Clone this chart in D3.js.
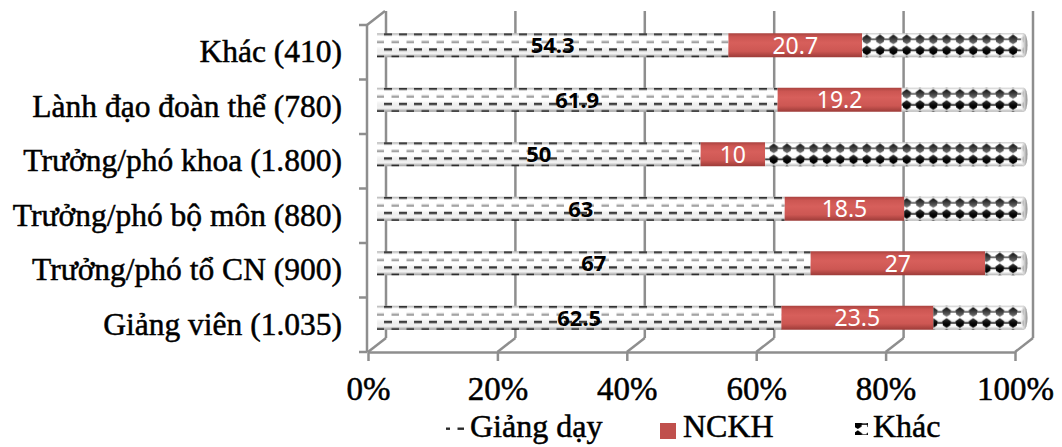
<!DOCTYPE html>
<html>
<head>
<meta charset="utf-8">
<script src="https://cdn.jsdelivr.net/npm/d3@7"></script>
<style>
  html, body { margin: 0; padding: 0; background: #fff; }
  svg { display: block; }
</style>
</head>
<body>
<svg id="chart" width="1062" height="447"></svg>
<script>
// ---------------- data ----------------
const categories = [
  "Khác (410)",
  "Lành đạo đoàn thể (780)",
  "Trưởng/phó khoa (1.800)",
  "Trưởng/phó bộ môn (880)",
  "Trưởng/phó tổ CN (900)",
  "Giảng viên (1.035)"
];
const giangDay = [54.3, 61.9, 50, 63, 67, 62.5];
const nckh     = [20.7, 19.2, 10, 18.5, 27, 23.5];
const khac     = [25, 18.9, 40, 18.5, 6, 14];
const seriesNames = ["Giảng dạy", "NCKH", "Khác"];
const tickValues = [0, 20, 40, 60, 80, 100];

// ---------------- layout ----------------
const svg = d3.select("#chart");
const W = 1062, H = 447;
const front = { left: 368, right: 1015, top: 25, bottom: 352 };
const depth = { dx: 18, dy: -14 };
const barH = 24;
const grid = "#8e8e8e";
const serif = "'Liberation Serif', 'Times New Roman', serif";

const x = d3.scaleLinear().domain([0, 100]).range([front.left, front.right]);
const y = d3.scaleBand().domain(categories).range([front.top, front.bottom]).padding(0);

svg.append("rect").attr("width", W).attr("height", H).attr("fill", "#fff");

// ---------------- defs ----------------
const defs = svg.append("defs");

// Giảng dạy: dashed horizontal pattern
const pG = defs.append("pattern").attr("id", "patGiang")
  .attr("patternUnits", "userSpaceOnUse").attr("width", 15).attr("height", 15);
pG.append("rect").attr("width", 15).attr("height", 15).attr("fill", "#fff");
pG.append("rect").attr("x", 0).attr("y", 0).attr("width", 8).attr("height", 2.4).attr("fill", "#2a2a2a");
pG.append("rect").attr("x", 7.5).attr("y", 7.5).attr("width", 8).attr("height", 2.4).attr("fill", "#2a2a2a");

// Khác: black blob pattern
const pK = defs.append("pattern").attr("id", "patKhac")
  .attr("patternUnits", "userSpaceOnUse").attr("width", 13.3).attr("height", 11);
pK.append("rect").attr("width", 13.3).attr("height", 11).attr("fill", "#fff");
pK.append("path").attr("d", "M6.6,1.2 L11,4.4 L10.2,8.8 L6.6,11 L3,8.8 L2.2,4.4 Z").attr("fill", "#000");
pK.append("rect").attr("x", 0).attr("y", 5.4).attr("width", 13.3).attr("height", 1.4).attr("fill", "#000");

// cylinder shading overlays
function makeShade(id, stops) {
  const g = defs.append("linearGradient").attr("id", id)
    .attr("x1", 0).attr("y1", 0).attr("x2", 0).attr("y2", 1);
  stops.forEach(s => g.append("stop").attr("offset", s[0]).attr("stop-color", s[1]).attr("stop-opacity", s[2]));
}
makeShade("shadeG", [[0, "#000", 0.3], [0.12, "#fff", 0.4], [0.32, "#fff", 0.65], [0.55, "#fff", 0.2],
  [0.85, "#000", 0.05], [1, "#000", 0.4]]);
makeShade("shadeK", [[0, "#000", 0.25], [0.1, "#fff", 0.1], [0.45, "#fff", 0.45], [0.55, "#fff", 0.2],
  [0.85, "#000", 0.0], [1, "#000", 0.3]]);

const rg = defs.append("linearGradient").attr("id", "redGrad")
  .attr("x1", 0).attr("y1", 0).attr("x2", 0).attr("y2", 1);
[[0, "#a9423f"], [0.15, "#cc5652"], [0.4, "#d75f5b"], [0.75, "#cd5753"], [1, "#9c3b38"]]
  .forEach(s => rg.append("stop").attr("offset", s[0]).attr("stop-color", s[1]));

const capG = defs.append("linearGradient").attr("id", "capGrad")
  .attr("x1", 0).attr("y1", 0).attr("x2", 1).attr("y2", 0);
[[0, "#ffffff"], [0.5, "#cfcfcf"], [1, "#7a7a7a"]]
  .forEach(s => capG.append("stop").attr("offset", s[0]).attr("stop-color", s[1]));

// ---------------- walls / gridlines ----------------
const gGrid = svg.append("g").attr("stroke", grid).attr("stroke-width", 2.5).attr("fill", "none");

gGrid.selectAll("line.back").data(tickValues).join("line")
  .attr("x1", d => x(d) + depth.dx).attr("x2", d => x(d) + depth.dx)
  .attr("y1", front.top + depth.dy).attr("y2", front.bottom + depth.dy);

gGrid.selectAll("line.floor").data(tickValues).join("line")
  .attr("x1", d => x(d)).attr("x2", d => x(d) + depth.dx)
  .attr("y1", front.bottom).attr("y2", front.bottom + depth.dy);

gGrid.append("line").attr("x1", front.left - 1).attr("x2", front.left - 1)
  .attr("y1", front.top).attr("y2", front.bottom);
gGrid.append("line").attr("x1", front.left - 1).attr("x2", front.left + depth.dx - 1)
  .attr("y1", front.top).attr("y2", front.top + depth.dy);

const bounds = categories.map(c => y(c)).concat([y.range()[1]]);
gGrid.selectAll("line.ltick").data(bounds).join("line")
  .attr("x1", front.left - 9).attr("x2", front.left - 1)
  .attr("y1", d => d).attr("y2", d => d);

// ---------------- axes ----------------
const xAxis = d3.axisBottom(x).tickValues(tickValues).tickFormat(d => d + "%")
  .tickSize(9).tickSizeOuter(0).tickPadding(15.5);
const gx = svg.append("g").attr("transform", `translate(0,${front.bottom})`).call(xAxis);
gx.select(".domain").attr("stroke", grid).attr("stroke-width", 2.5);
gx.selectAll(".tick line").attr("stroke", grid).attr("stroke-width", 2.5);
gx.selectAll(".tick text").attr("font-family", serif).attr("font-size", 33).attr("fill", "#000")
  .attr("stroke", "#000").attr("stroke-width", 0.5);

const yAxis = d3.axisLeft(y).tickSize(0).tickPadding(25);
const gy = svg.append("g").attr("transform", `translate(${front.left - 1},0)`).call(yAxis);
gy.select(".domain").remove();
gy.selectAll(".tick text").attr("font-family", serif).attr("font-size", 31.5).attr("fill", "#000")
  .attr("stroke", "#000").attr("stroke-width", 0.5);

// ---------------- bars ----------------
const rows = categories.map((c, i) => ({
  cat: c,
  segs: [
    { key: 0, v0: 0, v1: giangDay[i], val: giangDay[i] },
    { key: 1, v0: giangDay[i], v1: giangDay[i] + nckh[i], val: nckh[i] },
    { key: 2, v0: giangDay[i] + nckh[i], v1: giangDay[i] + nckh[i] + khac[i], val: khac[i] }
  ]
}));
const fills = ["url(#patGiang)", "url(#redGrad)", "url(#patKhac)"];
const shades = ["url(#shadeG)", null, "url(#shadeK)"];
const midX = depth.dx / 2, midY = depth.dy / 2;

const gRow = svg.selectAll("g.row").data(rows).join("g").attr("class", "row")
  .attr("transform", d => `translate(${midX},${y(d.cat) + y.bandwidth() / 2 + midY - barH / 2})`);

gRow.selectAll("rect.seg").data(d => d.segs).join("rect").attr("class", "seg")
  .attr("x", d => x(d.v0)).attr("width", d => x(d.v1) - x(d.v0))
  .attr("y", 0).attr("height", barH)
  .attr("fill", d => fills[d.key]);

gRow.selectAll("rect.sh").data(d => d.segs.filter(s => s.key !== 1)).join("rect").attr("class", "sh")
  .attr("x", d => x(d.v0)).attr("width", d => x(d.v1) - x(d.v0))
  .attr("y", 0).attr("height", barH).attr("fill", d => shades[d.key]);

gRow.append("ellipse")
  .attr("cx", d => x(d.segs[2].v1)).attr("cy", barH / 2)
  .attr("rx", 3.5).attr("ry", barH / 2)
  .attr("fill", "url(#capGrad)").attr("opacity", 0.85);

gRow.selectAll("text.val").data(d => d.segs.filter(s => s.key < 2)).join("text").attr("class", "val")
  .attr("x", d => (x(d.v0) + x(d.v1)) / 2)
  .attr("y", barH / 2).attr("dy", "0.36em")
  .attr("text-anchor", "middle")
  .attr("font-family", "'Noto Sans', 'Open Sans', sans-serif")
  .attr("font-size", d => d.key === 0 ? 22 : 23)
  .attr("font-weight", d => d.key === 0 ? "bold" : "normal")
  .attr("fill", d => d.key === 0 ? "#000" : "#fff")
  .text(d => d.val);

// ---------------- legend ----------------
const legend = [
  { name: seriesNames[0], sx: 446, sw: 18, sy: 423, sh: 11, fill: "url(#patGiang)", tx: 470 },
  { name: seriesNames[1], sx: 660, sw: 16, sy: 423, sh: 16, fill: "#c0504d", tx: 683 },
  { name: seriesNames[2], sx: 855, sw: 13, sy: 423, sh: 12, fill: "url(#patKhac)", tx: 873 }
];
const gl = svg.append("g");
const li = gl.selectAll("g").data(legend).join("g");
li.append("rect").attr("x", d => d.sx).attr("y", d => d.sy)
  .attr("width", d => d.sw).attr("height", d => d.sh).attr("fill", d => d.fill);
li.append("text").attr("x", d => d.tx).attr("y", 437)
  .attr("font-family", serif).attr("font-size", 32).attr("fill", "#000")
  .attr("stroke", "#000").attr("stroke-width", 0.5)
  .text(d => d.name);
</script>
</body>
</html>
